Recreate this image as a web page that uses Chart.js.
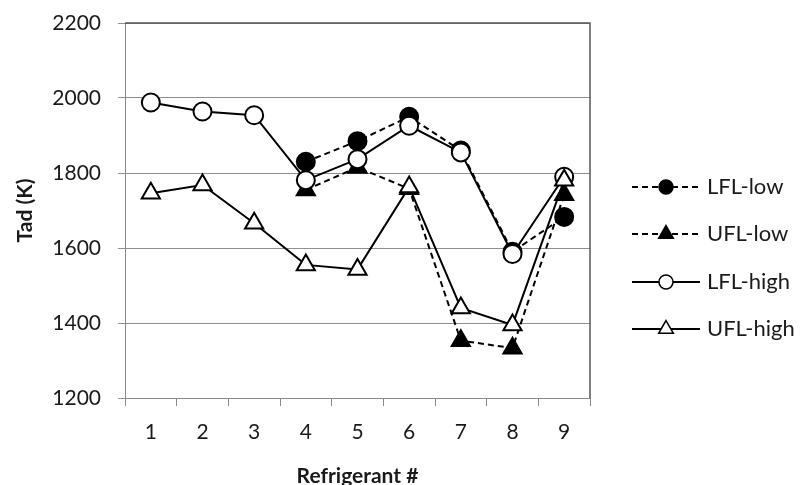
<!DOCTYPE html>
<html>
<head>
<meta charset="utf-8">
<title>Tad vs Refrigerant</title>
<script src="https://cdn.jsdelivr.net/npm/chart.js@4/dist/chart.umd.min.js"></script>
<style>
  html, body { margin: 0; padding: 0; background: #ffffff; }
  #wrap { width: 806px; height: 485px; position: relative; }
</style>
</head>
<body>
<div id="wrap"><canvas id="chart" width="806" height="485"></canvas></div>
<script>
// Refrigerant numbers along the x axis
const refrigerants = ['1', '2', '3', '4', '5', '6', '7', '8', '9'];

// Adiabatic flame temperature (K) per refrigerant
const lflLow  = [null, null, null, 1830, 1885, 1950, 1860, 1590, 1683];
const uflLow  = [null, null, null, 1755, 1815, 1758, 1353, 1333, 1742];
const lflHigh = [1988, 1964, 1954, 1781, 1837, 1926, 1855, 1584, 1790];
const uflHigh = [1746, 1768, 1666, 1555, 1543, 1763, 1440, 1395, 1781];

// Value axis ticks
const yTicks = [1200, 1400, 1600, 1800, 2000, 2200];

const FONT = 'Lato, "Open Sans", sans-serif';
const INK = '#000000';
const TEXT = '#1a1a1a';

const seriesStyle = [
  { label: 'LFL-low',  data: lflLow,  shape: 'circle',   fill: INK,       dash: [6, 4], order: 4 },
  { label: 'UFL-low',  data: uflLow,  shape: 'triangle', fill: INK,       dash: [6, 4], order: 3 },
  { label: 'LFL-high', data: lflHigh, shape: 'circle',   fill: '#ffffff', dash: [],     order: 2 },
  { label: 'UFL-high', data: uflHigh, shape: 'triangle', fill: '#ffffff', dash: [],     order: 1 }
];

const datasets = seriesStyle.map(s => ({
  label: s.label,
  data: s.data,
  order: s.order,
  borderColor: INK,
  borderWidth: 2,
  borderDash: s.dash,
  backgroundColor: s.fill,
  pointStyle: s.shape,
  pointRadius: s.shape === 'circle' ? 9 : 10.5,
  pointBorderWidth: 2,
  pointBorderColor: INK,
  pointBackgroundColor: s.fill,
  spanGaps: false,
  tension: 0,
  fill: false
}));

// Plot frame (top and right edges) plus the side legend
const framePlugin = {
  id: 'frameAndLegend',
  afterDraw(chart) {
    const { ctx, chartArea: a } = chart;
    ctx.save();
    ctx.strokeStyle = '#555555';
    ctx.lineWidth = 1.5;
    ctx.beginPath();
    ctx.moveTo(a.left, a.top);
    ctx.lineTo(a.right, a.top);
    ctx.lineTo(a.right, a.bottom);
    ctx.stroke();

    const x0 = 632, x1 = 700, mx = 666, tx = 707;
    const rowY = [187, 234, 282, 329];
    seriesStyle.forEach((s, i) => {
      const y = rowY[i];
      ctx.setLineDash(s.dash);
      ctx.strokeStyle = INK;
      ctx.lineWidth = 2;
      ctx.beginPath();
      ctx.moveTo(x0, y);
      ctx.lineTo(x1, y);
      ctx.stroke();
      ctx.setLineDash([]);
      ctx.fillStyle = s.fill;
      ctx.strokeStyle = INK;
      ctx.lineWidth = 1.5;
      ctx.beginPath();
      if (s.shape === 'circle') {
        ctx.arc(mx, y, 7, 0, Math.PI * 2);
      } else {
        const r = 8.5;
        ctx.moveTo(mx, y - r);
        ctx.lineTo(mx + r * 0.866, y + r * 0.5);
        ctx.lineTo(mx - r * 0.866, y + r * 0.5);
        ctx.closePath();
      }
      ctx.fill();
      ctx.stroke();
      ctx.fillStyle = TEXT;
      ctx.font = '22px ' + FONT;
      ctx.textAlign = 'left';
      ctx.textBaseline = 'middle';
      ctx.fillText(s.label, tx, y);
    });
    ctx.restore();
  }
};

new Chart(document.getElementById('chart'), {
  type: 'line',
  data: { labels: refrigerants, datasets },
  plugins: [framePlugin],
  options: {
    responsive: false,
    animation: false,
    devicePixelRatio: 1,
    layout: { padding: { left: 0, top: 23, right: 216, bottom: 0 } },
    plugins: {
      legend: { display: false },
      tooltip: { enabled: false }
    },
    scales: {
      x: {
        type: 'category',
        offset: true,
        afterFit(scale) {
          scale.height = 87;
          scale.paddingLeft = 0;
          scale.paddingRight = 0;
        },
        grid: {
          offset: true,
          drawOnChartArea: false,
          drawTicks: true,
          tickLength: 8,
          color: '#8a8a8a',
          lineWidth: 1
        },
        border: { display: true, color: '#8a8a8a', width: 1 },
        ticks: {
          color: TEXT,
          font: { family: FONT, size: 21 },
          padding: 14,
          maxRotation: 0
        },
        title: {
          display: true,
          text: 'Refrigerant #',
          color: TEXT,
          font: { family: FONT, size: 21, weight: 'bold', lineHeight: 1 },
          padding: { top: 0, bottom: -2 }
        }
      },
      y: {
        min: 1200,
        max: 2200,
        afterFit(scale) {
          scale.width = 125;
          scale.paddingTop = 0;
          scale.paddingBottom = 0;
        },
        afterBuildTicks(scale) { scale.ticks = yTicks.map(v => ({ value: v })); },
        grid: {
          drawOnChartArea: true,
          drawTicks: true,
          tickLength: 7,
          color: '#8f8f8f',
          lineWidth: 1
        },
        border: { display: true, color: '#8a8a8a', width: 1 },
        ticks: {
          color: TEXT,
          font: { family: FONT, size: 21 },
          padding: 17,
          callback: v => String(v)
        },
        title: {
          display: true,
          text: 'Tad (K)',
          color: TEXT,
          font: { family: FONT, size: 21, weight: 'bold', lineHeight: 1.2 },
          padding: { top: 13, bottom: 0 }
        }
      }
    }
  }
});
</script>
</body>
</html>
